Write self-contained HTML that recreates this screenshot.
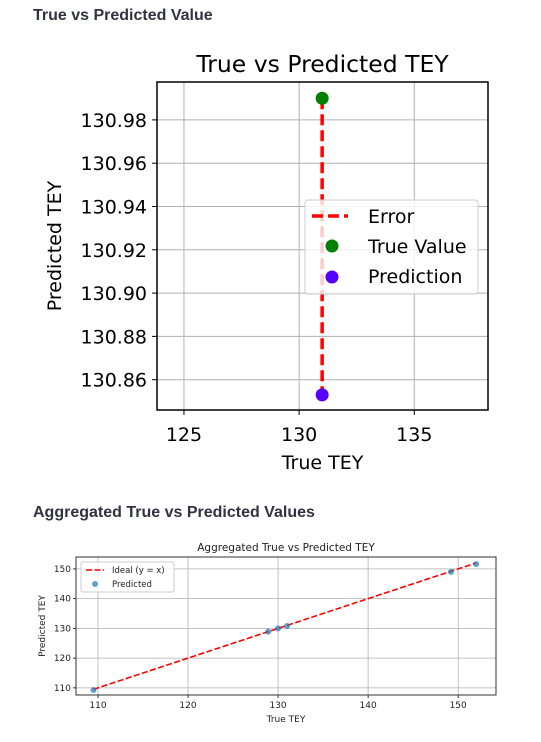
<!DOCTYPE html>
<html><head><meta charset="utf-8"><style>
body{margin:0;background:#fff;width:541px;height:742px;overflow:hidden;font-family:"DejaVu Sans","Liberation Sans",sans-serif}
h3{position:absolute;margin:0;left:33px;font:bold 16px "Liberation Sans",sans-serif;color:#31333f}
svg{position:absolute;left:0;top:0}
</style></head><body>
<h3 style="top:7px">True vs Predicted Value</h3>
<h3 style="top:504px">Aggregated True vs Predicted Values</h3>
<svg id="s" width="541" height="742"></svg>
<script>
// Top chart data
const topTrue=[131];
const topTrueVal=[130.99];
const topPred=[130.853];
const topXTicks=[125,130,135];
const topYTicks=[130.86,130.88,130.90,130.92,130.94,130.96,130.98];
// Bottom chart data
const aggTrue=[109.5,128.9,130.0,131.0,149.2,152.0];
const aggPred=[109.3,128.9,130.0,130.8,149.0,151.6];
const aggXTicks=[110,120,130,140,150];
const aggYTicks=[110,120,130,140,150];

const NS="http://www.w3.org/2000/svg",S=document.getElementById('s');
function mk(t,a,txt){const e=document.createElementNS(NS,t);for(const k in a)e.setAttribute(k,a[k]);if(txt!=null)e.textContent=txt;S.appendChild(e);return e;}
function lin(d0,d1,r0,r1){return v=>r0+(v-d0)/(d1-d0)*(r1-r0);}

// ---- top chart
(function(){
const L=157,R=488,T=82,B=410;
const x=lin(123.83,138.2,L,R),y=lin(130.846,130.9975,B,T);
topXTicks.forEach(v=>{const e=mk('line',{x1:x(v),x2:x(v),y1:T,y2:B,stroke:'#b0b0b0','stroke-width':1});
mk('line',{x1:x(v),x2:x(v),y1:B,y2:B+5,stroke:'#000'});
const t=mk('text',{x:x(v),y:B+31,'text-anchor':'middle','font-size':19},v);});
topYTicks.forEach(v=>{const e=mk('line',{x1:L,x2:R,y1:y(v),y2:y(v),stroke:'#b0b0b0','stroke-width':1});
mk('line',{x1:L-5,x2:L,y1:y(v),y2:y(v),stroke:'#000'});
const t=mk('text',{x:L-10,y:y(v)+7,'text-anchor':'end','font-size':19},v.toFixed(2));});
topTrue.forEach((tx,i)=>{
const l=mk('line',{x1:x(tx),x2:x(tx),y1:y(topTrueVal[i]),y2:y(topPred[i]),stroke:'#ff0000','stroke-width':3.5,'stroke-dasharray':'11 5'});
const a=mk('circle',{cx:x(tx),cy:y(topTrueVal[i]),r:6.5,fill:'#008000'});
const b=mk('circle',{cx:x(tx),cy:y(topPred[i]),r:6.5,fill:'#5500ff'});
});
const fr=mk('rect',{x:L,y:T,width:R-L,height:B-T,fill:'none',stroke:'#000','stroke-width':1.5});
const lg=mk('rect',{x:305,y:200,width:173,height:94,fill:'#fff','fill-opacity':0.8,stroke:'#ccc',rx:3});
mk('line',{x1:312,x2:348,y1:216,y2:216,stroke:'#ff0000','stroke-width':3.5,'stroke-dasharray':'11 5'});
mk('circle',{cx:332,cy:246,r:6.5,fill:'#008000'});
mk('circle',{cx:332,cy:277,r:6.5,fill:'#5500ff'});
[['Error',223],['True Value',253],['Prediction',283]].forEach(([s,yy])=>{const t=mk('text',{x:368,y:yy,'font-size':19},s);});
const ti=mk('text',{x:(L+R)/2,y:72,'text-anchor':'middle','font-size':23.5},'True vs Predicted TEY');
const xl=mk('text',{x:(L+R)/2,y:469,'text-anchor':'middle','font-size':19},'True TEY');
const yl=mk('text',{x:0,y:0,'text-anchor':'middle','font-size':19,transform:`translate(61,${(T+B)/2}) rotate(-90)`},'Predicted TEY');
})();

// ---- bottom chart
(function(){
const L=76,R=496,T=557,B=695;
const x=lin(107.56,154.2,L,R),y=lin(107.6,154.0,B,T);
aggXTicks.forEach(v=>{mk('line',{x1:x(v),x2:x(v),y1:T,y2:B,stroke:'#b0b0b0','stroke-width':0.8});
mk('line',{x1:x(v),x2:x(v),y1:B,y2:B+3,stroke:'#000','stroke-width':0.8});
const t=mk('text',{x:x(v),y:B+13,'text-anchor':'middle','font-size':9,fill:'#222'},v);});
aggYTicks.forEach(v=>{mk('line',{x1:L,x2:R,y1:y(v),y2:y(v),stroke:'#b0b0b0','stroke-width':0.8});
mk('line',{x1:L-3,x2:L,y1:y(v),y2:y(v),stroke:'#000','stroke-width':0.8});
const t=mk('text',{x:L-5,y:y(v)+3,'text-anchor':'end','font-size':9,fill:'#222'},v);});
const mn=Math.min(...aggTrue),mx=Math.max(...aggTrue);
const il=mk('line',{x1:x(mn),y1:y(mn),x2:x(mx),y2:y(mx),stroke:'#ff0000','stroke-width':1.6,'stroke-dasharray':'6 2.5'});
aggTrue.forEach((tv,i)=>{const c=mk('circle',{cx:x(tv),cy:y(aggPred[i]),r:3,fill:'#1f77b4','fill-opacity':0.7});});
const fr=mk('rect',{x:L,y:T,width:R-L,height:B-T,fill:'none',stroke:'#333','stroke-width':1});
const lg=mk('rect',{x:81,y:562,width:93,height:30,fill:'#fff','fill-opacity':0.8,stroke:'#ccc',rx:2});
mk('line',{x1:86,x2:104,y1:570,y2:570,stroke:'#ff0000','stroke-width':1.6,'stroke-dasharray':'6 2.5'});
mk('circle',{cx:95,cy:584,r:3,fill:'#1f77b4','fill-opacity':0.7});
[['Ideal (y = x)',573],['Predicted',587]].forEach(([s,yy])=>{const t=mk('text',{x:112,y:yy,'font-size':8.5,fill:'#222'},s);});
const ti=mk('text',{x:(L+R)/2,y:551,'text-anchor':'middle','font-size':10.5,fill:'#222'},'Aggregated True vs Predicted TEY');
const xl=mk('text',{x:(L+R)/2,y:722,'text-anchor':'middle','font-size':9,fill:'#222'},'True TEY');
const yl=mk('text',{x:0,y:0,'text-anchor':'middle','font-size':9,fill:'#222',transform:`translate(45,${(T+B)/2}) rotate(-90)`},'Predicted TEY');
})();
</script>
</body></html>
